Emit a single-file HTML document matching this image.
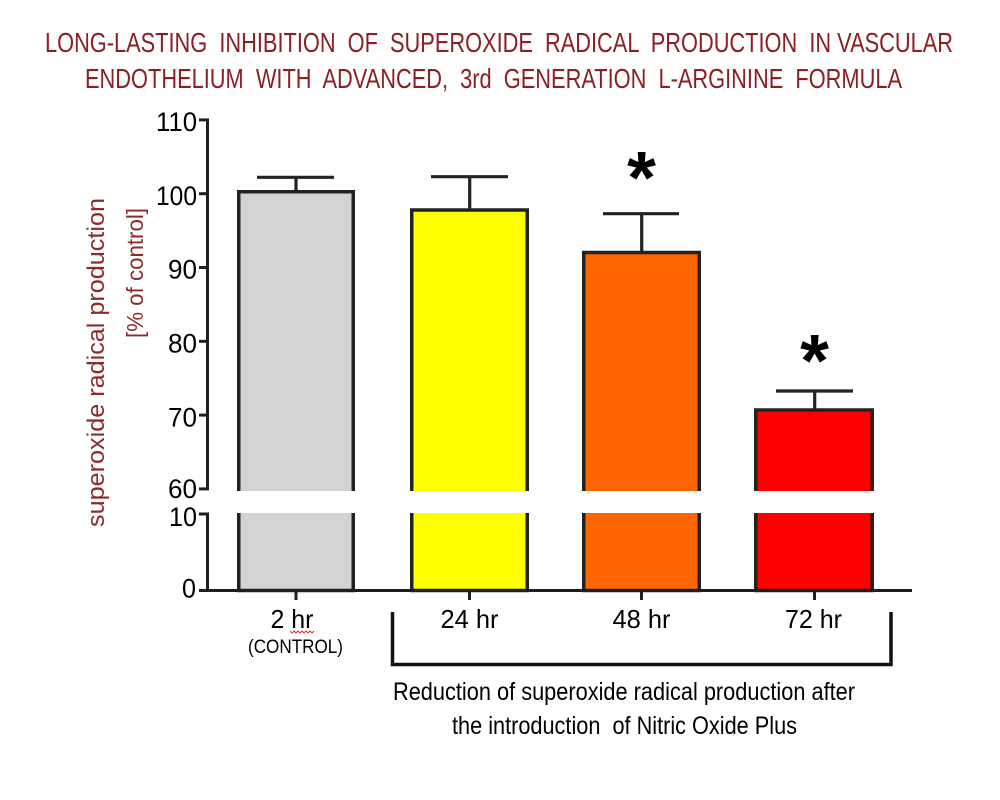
<!DOCTYPE html>
<html>
<head>
<meta charset="utf-8">
<style>
  html, body { margin: 0; padding: 0; background: #ffffff; }
  svg { display: block; }
  text { font-family: "Liberation Sans", "DejaVu Sans", sans-serif; }
</style>
</head>
<body>
<svg width="1000" height="800" viewBox="0 0 1000 800" xmlns="http://www.w3.org/2000/svg">
  <rect x="0" y="0" width="1000" height="800" fill="#ffffff"/>

  <!-- Title -->
  <text x="45" y="52" font-size="28" fill="#8c1f24" textLength="908" lengthAdjust="spacingAndGlyphs" style="white-space:pre">LONG-LASTING  INHIBITION  OF  SUPEROXIDE  RADICAL  PRODUCTION  IN VASCULAR</text>
  <text x="85" y="88" font-size="28" fill="#8c1f24" textLength="817" lengthAdjust="spacingAndGlyphs" style="white-space:pre">ENDOTHELIUM  WITH  ADVANCED,  3rd  GENERATION  L-ARGININE  FORMULA</text>

  <!-- Y axis label -->
  <text transform="translate(104,527) rotate(-90)" font-size="24" fill="#8e2a2a" textLength="329" lengthAdjust="spacingAndGlyphs">superoxide radical production</text>
  <text transform="translate(143,338) rotate(-90)" font-size="23" fill="#8e2a2a" textLength="130" lengthAdjust="spacingAndGlyphs">[% of control]</text>

  <!-- Bars -->
  <g stroke="#222222" stroke-width="3.5">
    <rect x="238.75" y="191.75" width="114.5" height="398.75" fill="#d3d3d3"/>
    <rect x="411.75" y="210" width="115.5" height="380.5" fill="#ffff00"/>
    <rect x="583.75" y="252.5" width="115.5" height="338" fill="#ff6600"/>
    <rect x="755.75" y="410" width="116.5" height="180.5" fill="#ff0000"/>
  </g>

  <!-- Axis break gap across bars -->
  <rect x="234" y="491" width="124" height="22" fill="#ffffff"/>
  <rect x="407" y="491" width="125" height="22" fill="#ffffff"/>
  <rect x="579" y="491" width="125" height="22" fill="#ffffff"/>
  <rect x="751" y="491" width="126" height="22" fill="#ffffff"/>

  <!-- Error bars -->
  <g stroke="#222222" stroke-width="3.2" fill="none">
    <line x1="296" y1="191" x2="296" y2="177.3"/>
    <line x1="257" y1="177.3" x2="334" y2="177.3"/>

    <line x1="469.7" y1="209" x2="469.7" y2="176.7"/>
    <line x1="431" y1="176.7" x2="508" y2="176.7"/>

    <line x1="641.7" y1="251.5" x2="641.7" y2="213.7"/>
    <line x1="603" y1="213.7" x2="679" y2="213.7"/>

    <line x1="814.7" y1="409" x2="814.7" y2="391"/>
    <line x1="776" y1="391" x2="853" y2="391"/>
  </g>

  <!-- Significance asterisks -->
  <text x="641.5" y="203" font-size="74" font-weight="bold" text-anchor="middle" fill="#000000">*</text>
  <text x="814.5" y="386" font-size="74" font-weight="bold" text-anchor="middle" fill="#000000">*</text>

  <!-- Axes -->
  <g stroke="#1e1e1e" stroke-width="3" fill="none">
    <!-- upper y segment -->
    <line x1="207.5" y1="118.5" x2="207.5" y2="490"/>
    <line x1="199" y1="119.9" x2="209" y2="119.9"/>
    <line x1="199" y1="193.7" x2="209" y2="193.7"/>
    <line x1="199" y1="267.5" x2="209" y2="267.5"/>
    <line x1="199" y1="341.3" x2="209" y2="341.3"/>
    <line x1="199" y1="415.1" x2="209" y2="415.1"/>
    <line x1="199" y1="488.9" x2="209" y2="488.9"/>
    <!-- lower y segment -->
    <line x1="207.5" y1="512.5" x2="207.5" y2="592"/>
    <line x1="199" y1="514" x2="209" y2="514"/>
    <!-- x axis -->
    <line x1="199" y1="590.5" x2="912" y2="590.5"/>
    <!-- x ticks -->
    <line x1="296" y1="590" x2="296" y2="600"/>
    <line x1="469.5" y1="590" x2="469.5" y2="600"/>
    <line x1="641.5" y1="590" x2="641.5" y2="600"/>
    <line x1="814.5" y1="590" x2="814.5" y2="600"/>
  </g>

  <!-- Y tick labels -->
  <g font-size="27" fill="#000000" text-anchor="end">
    <text x="197" y="131" textLength="41" lengthAdjust="spacingAndGlyphs">110</text>
    <text x="197" y="205" textLength="41" lengthAdjust="spacingAndGlyphs">100</text>
    <text x="197" y="278.5" textLength="29" lengthAdjust="spacingAndGlyphs">90</text>
    <text x="197" y="352.5" textLength="29" lengthAdjust="spacingAndGlyphs">80</text>
    <text x="197" y="426.5" textLength="29" lengthAdjust="spacingAndGlyphs">70</text>
    <text x="197" y="498" textLength="29" lengthAdjust="spacingAndGlyphs">60</text>
    <text x="197" y="526" textLength="28" lengthAdjust="spacingAndGlyphs">10</text>
    <text x="196" y="597.5" textLength="14" lengthAdjust="spacingAndGlyphs">0</text>
  </g>

  <!-- X labels -->
  <g font-size="26" fill="#000000" text-anchor="middle">
    <text x="292" y="628" textLength="43" lengthAdjust="spacingAndGlyphs">2 hr</text>
    <text x="469.5" y="628" textLength="58" lengthAdjust="spacingAndGlyphs">24 hr</text>
    <text x="641.5" y="628" textLength="58" lengthAdjust="spacingAndGlyphs">48 hr</text>
    <text x="813.5" y="628" textLength="57" lengthAdjust="spacingAndGlyphs">72 hr</text>
  </g>
  <!-- spellcheck squiggle under "hr" -->
  <polyline points="290,631 292,633 294,631 296,633 298,631 300,633 302,631 304,633 306,631 308,633 310,631 312,633 314,631" fill="none" stroke="#e03030" stroke-width="1"/>
  <text x="295.5" y="653" font-size="19" fill="#000000" text-anchor="middle" textLength="95" lengthAdjust="spacingAndGlyphs">(CONTROL)</text>

  <!-- Bracket -->
  <path d="M392.5,612 V664.5 H891 V612" fill="none" stroke="#111111" stroke-width="3.5"/>

  <!-- Bottom caption -->
  <text x="393" y="700" font-size="25" fill="#000000" textLength="462" lengthAdjust="spacingAndGlyphs">Reduction of superoxide radical production after</text>
  <text x="452" y="734" font-size="25" fill="#000000" textLength="345" lengthAdjust="spacingAndGlyphs" style="white-space:pre">the introduction  of Nitric Oxide Plus</text>
</svg>
</body>
</html>
